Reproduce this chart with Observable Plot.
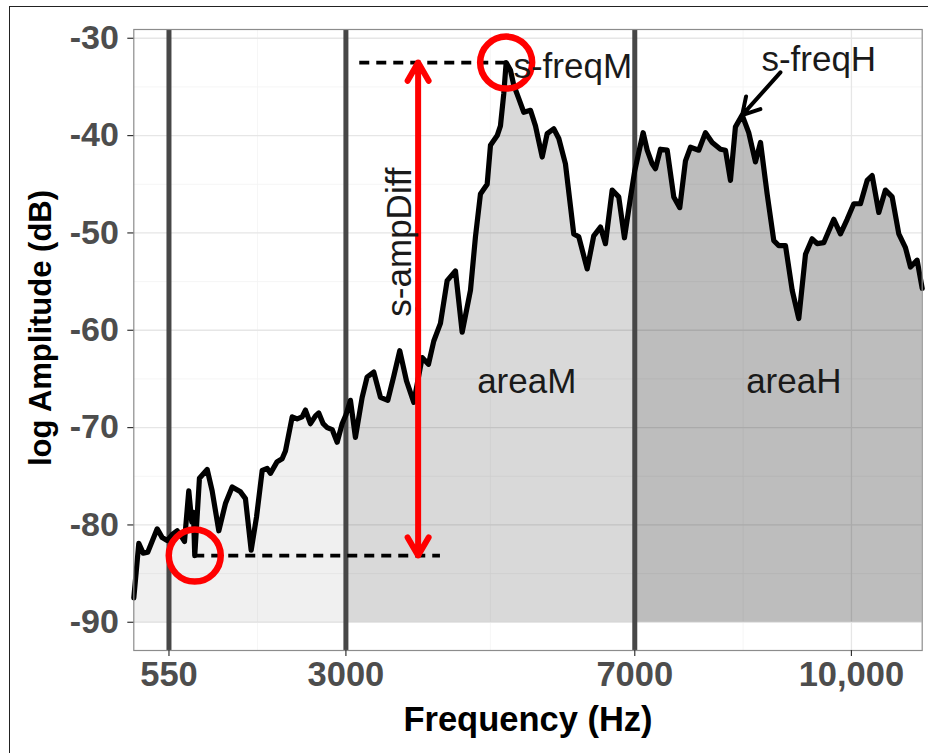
<!DOCTYPE html>
<html><head><meta charset="utf-8">
<script src="https://cdn.jsdelivr.net/npm/d3@7"></script>
<script src="https://cdn.jsdelivr.net/npm/@observablehq/plot@0.6"></script>
<style>
html,body{margin:0;padding:0;background:#fff;overflow:hidden;width:928px;height:753px;}
#wrap{position:relative;width:928px;height:753px;}
#chart{position:absolute;left:0;top:0;}
#border{position:absolute;left:9px;top:6px;width:1000px;height:1000px;border-left:1.5px solid #222;border-top:1.5px solid #222;pointer-events:none;}
</style></head><body>
<div id="wrap"><div id="chart"></div><div id="border"></div></div>
<script>
// Spectrum (frequency in Hz, log amplitude in dB)
const freq = [63,132,193,256,387,456,525,594,664,733,765,824,866,889,907,972,1079,1148,1240,1332,
  1425,1540,1609,1688,1762,1841,1910,1955,2048,2117,2163,2256,2325,2394,2440,2509,2579,2624,2685,2741,
  2810,2879,2948,3000,3063,
  3132,3225,3294,3386,3479,3580,3663,3746,3839,3940,4056,4143,4217,4309,4402,4517,4610,4725,4794,4863,
  4956,5002,5095,5140,5186,5219,5279,5324,5394,5463,5556,5625,5718,5787,5878,5948,6040,6155,6225,6341,
  6432,6525,6594,6687,6778,6857,6940,7000,
  7116,7172,7241,7287,7356,7449,7540,7623,7702,7771,7886,7979,8072,8187,8256,8325,8394,8487,8578,8671,
  8741,8833,8925,8994,9087,9180,9271,9364,9456,9526,9617,9756,9848,9941,10033,10125,10218,10287,10379,10471,
  10564,10656,10748,10818,10910,10980];
const amp = [-87.5,-81.9,-82.9,-82.8,-80.4,-81.3,-81.6,-81.0,-80.6,-81.3,-81.7,-76.5,-79.7,-78.7,-83.15,-75.2,-74.3,-76.5,-80.6,-77.8,
  -76.1,-76.6,-77.3,-82.6,-79.2,-74.4,-74.2,-74.7,-73.5,-73.2,-72.4,-68.9,-69.1,-68.9,-68.2,-69.6,-68.8,-68.5,-69.6,-70.0,
  -70.2,-71.5,-69.6,-68.7,-67.2,
  -71.0,-66.9,-64.8,-64.3,-66.9,-67.2,-64.7,-62.1,-65.2,-67.4,-62.8,-63.5,-61.1,-59.3,-54.9,-53.9,-60.2,-55.9,-50.4,-46.0,
  -45.0,-41.0,-40.0,-39.0,-35.7,-32.5,-33.3,-34.8,-36.2,-37.6,-37.4,-39.0,-42.2,-39.8,-39.3,-40.3,-42.9,-50.1,-50.4,-53.7,
  -50.3,-49.4,-51.1,-45.6,-46.3,-50.5,-46.4,-43.6,
  -39.7,-41.5,-42.9,-43.4,-41.4,-41.5,-46.3,-47.4,-42.6,-41.2,-41.5,-39.7,-40.7,-41.4,-41.5,-44.6,-39.1,-37.9,-39.7,-42.7,
  -40.7,-46.0,-50.8,-51.3,-51.3,-55.9,-58.8,-52.2,-50.6,-51.1,-51.0,-48.6,-50.1,-48.6,-47.0,-47.0,-44.6,-44.1,-47.9,-45.6,
  -46.3,-50.1,-51.5,-53.5,-52.8,-55.7];

// Axes
const xTicks = [550, 3000, 7000, 10000];
const xTickLabels = ["550", "3000", "7000", "10,000"];
const xMinor = [1775, 5000, 8500];
const yTicks = [-90, -80, -70, -60, -50, -40, -30];
const yMinor = [-85, -75, -65, -55, -45, -35];
const xDomain = [63, 10980];
const yDomain = [-92.9, -29.1];

// Bands and markers
const vlineFreqs = [550, 3000, 7000];
const bandEdges = [3000, 7000];
const bandShades = [0.06, 0.15, 0.258];
const floorDb = -90;

// Annotations
const peakM = {f: 5219, a: -32.5};
const lowL = {f: 907, a: -83.15};
const dashed = [{x1: 3192, x2: 5219, y: -32.5}, {x1: 907, x2: 4309, y: -83.15}];
const ampDiffX = 4000;
const freqHArrow = [{x1: 9017, y1: -33.5, x2: 8487, y2: -37.9}];
const startLabels = [{x: 5320, y: -32.92, t: "s-freqM"}];
const midLabels = [{x: 9548, y: -32.2, t: "s-freqH"}, {x: 5504, y: -65.25, t: "areaM"}, {x: 9202, y: -65.25, t: "areaH"}];
const rotLabels = [{x: 3743, y: -50.94, t: "s-ampDiff"}];

const rows = freq.map((f, i) => ({f, a: amp[i]}));
const band = (lo, hi) => rows.filter(d => d.f >= lo && d.f <= hi);
const bands = [band(xDomain[0], bandEdges[0]), band(bandEdges[0], bandEdges[1]), band(bandEdges[1], xDomain[1])];
const midA = (peakM.a + lowL.a) / 2;
const redArrows = [{x: ampDiffX, y1: midA, y2: peakM.a}, {x: ampDiffX, y1: midA, y2: lowL.a}];

const FONT = "'Liberation Sans', Arial, Helvetica, sans-serif";
const txtCol = "#1a1a1a";

const chart = Plot.plot({
  width: 928, height: 753,
  marginLeft: 133.3, marginRight: 6.3, marginTop: 29, marginBottom: 103,
  x: {domain: xDomain},
  y: {domain: yDomain},
  style: {fontFamily: FONT, background: "transparent", overflow: "visible"},
  marks: [
    Plot.ruleY(yMinor, {stroke: "#f2f2f2", strokeWidth: 0.8}),
    Plot.ruleX(xMinor, {stroke: "#f2f2f2", strokeWidth: 0.8}),
    Plot.ruleY(yTicks, {stroke: "#e6e6e6", strokeWidth: 1.3}),
    Plot.ruleX(xTicks, {stroke: "#e6e6e6", strokeWidth: 1.3}),
    ...bands.map((b, i) => Plot.areaY(b, {x: "f", y1: floorDb, y2: "a", fill: "#000", fillOpacity: bandShades[i]})),
    Plot.ruleX(vlineFreqs, {stroke: "#474747", strokeWidth: 5}),
    Plot.ruleY(dashed, {x1: "x1", x2: "x2", y: "y", stroke: "#000", strokeWidth: 3.6, strokeDasharray: "10,7"}),
    Plot.line(rows, {x: "f", y: "a", stroke: "#000", strokeWidth: 5.2, strokeLinejoin: "round"}),
    Plot.arrow(redArrows, {x1: "x", x2: "x", y1: "y1", y2: "y2", stroke: "red", strokeWidth: 6, headLength: 5.25}),
    Plot.dot([peakM, lowL], {x: "f", y: "a", r: 26, stroke: "red", strokeWidth: 6.5, fill: "none"}),
    Plot.arrow(freqHArrow, {x1: "x1", y1: "y1", x2: "x2", y2: "y2", stroke: "#000", strokeWidth: 4, headLength: 7.5}),
    Plot.text(startLabels, {x: "x", y: "y", text: "t", textAnchor: "start", lineAnchor: "middle", fontSize: 35, fill: txtCol}),
    Plot.text(midLabels, {x: "x", y: "y", text: "t", textAnchor: "middle", lineAnchor: "middle", fontSize: 35, fill: txtCol}),
    Plot.text(rotLabels, {x: "x", y: "y", text: "t", rotate: -90, textAnchor: "middle", lineAnchor: "middle", fontSize: 35, fill: txtCol}),
    Plot.frame({stroke: "#8c8c8c", strokeWidth: 1.2}),
    Plot.axisX({ticks: xTicks, tickFormat: d => xTickLabels[xTicks.indexOf(d)], tickSize: 6, tickPadding: 5,
      fontSize: 34.5, fontWeight: "bold", fill: "#4d4d4d", stroke: "#333", strokeWidth: 1.2, label: null}),
    Plot.axisY({ticks: yTicks, tickFormat: d => String(d), tickSize: 6, tickPadding: 9,
      fontSize: 34, fontWeight: "bold", fill: "#4d4d4d", stroke: "#333", strokeWidth: 1.2, label: null}),
    Plot.text(["Frequency (Hz)"], {text: d => d, frameAnchor: "bottom", dy: 69, textAnchor: "middle", lineAnchor: "middle", fontSize: 34.5, fontWeight: "bold", fill: "#000"}),
    Plot.text(["log Amplitude (dB)"], {text: d => d, frameAnchor: "left", dx: -93, dy: -12, rotate: -90, textAnchor: "middle", lineAnchor: "middle", fontSize: 31, fontWeight: "bold", fill: "#000"})
  ]
});
document.getElementById("chart").appendChild(chart);
</script></body></html>
